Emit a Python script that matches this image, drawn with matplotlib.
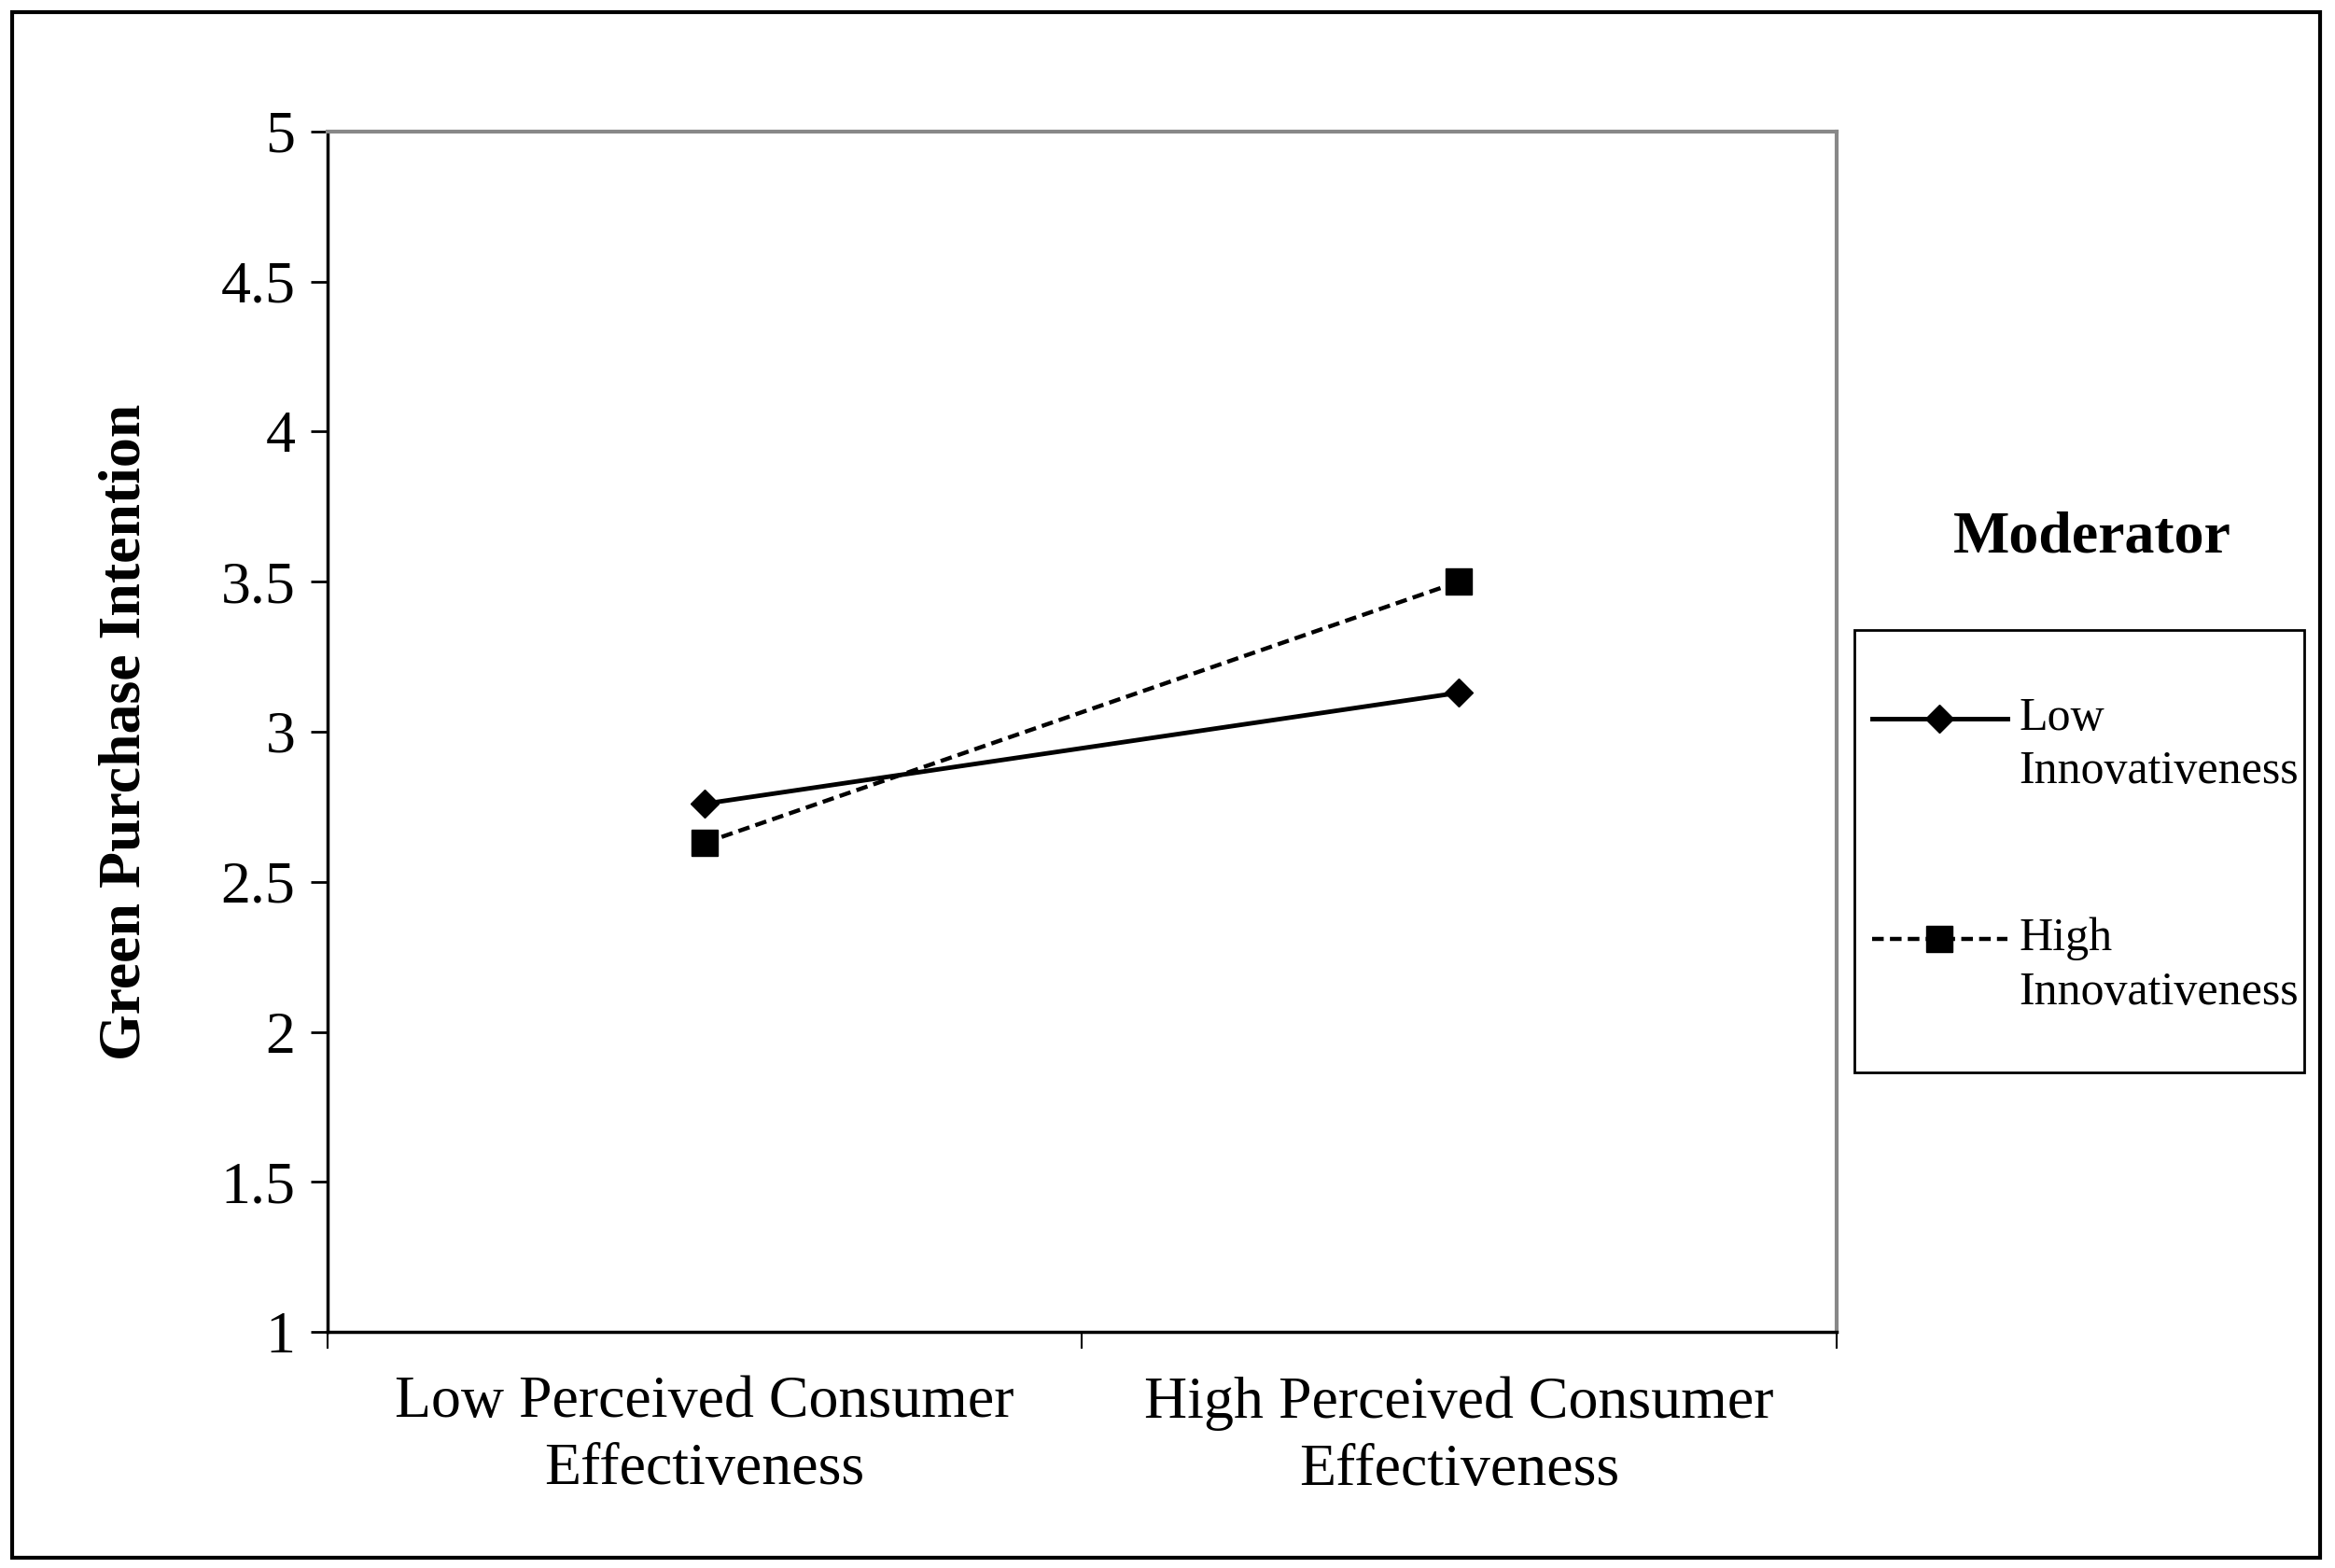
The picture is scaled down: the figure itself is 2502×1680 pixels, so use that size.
import matplotlib
import numpy as np
import matplotlib.pyplot as plt
from matplotlib.patches import Rectangle
from matplotlib.legend_handler import HandlerLine2D

matplotlib.use('Agg')

plt.rcParams['font.family'] = ['Liberation Serif', 'DejaVu Serif']

categories = ['Low Perceived Consumer\nEffectiveness', 'High Perceived Consumer\nEffectiveness']
low_innov = [2.76, 3.13]
high_innov = [2.63, 3.50]
series_names = ['Low\nInnovativeness', 'High\nInnovativeness']
y_ticks = [1, 1.5, 2, 2.5, 3, 3.5, 4, 4.5, 5]


class FirstLineHandler(HandlerLine2D):
    # значок легенды на уровне первой строки подписи, а не по центру
    def create_artists(self, legend, orig_handle, xdescent, ydescent,
                       width, height, fontsize, trans):
        return super().create_artists(legend, orig_handle, xdescent, ydescent - 42,
                                      width, height, fontsize, trans)


fig = plt.figure(figsize=(25.02, 16.8), dpi=100)
ax = fig.add_axes([0.1403, 0.1505, 0.6461, 0.7657])

x = np.arange(len(categories)) + 0.5
ax.plot(x, low_innov, '-', color='black', lw=3.5, marker='D', ms=15,
        label=series_names[0])
ax.plot(x, high_innov, color='black', lw=3.2, ls=(0, (2.8, 1.5)), marker='s',
        ms=20, label=series_names[1])

ax.set_xlim(0, 2)
ax.set_ylim(1, 5)
ax.set_yticks(y_ticks)
ax.set_yticklabels(['%g' % v for v in y_ticks])
ax.set_xticks([0, 1, 2])
ax.set_xticklabels([])
ax.set_xticks(x, minor=True)
ax.set_xticklabels(categories, minor=True, fontsize=46, linespacing=1.32)
ax.tick_params(axis='x', which='major', direction='out', length=13, width=1.5)
ax.tick_params(axis='x', which='minor', length=0, pad=34)
ax.tick_params(axis='y', direction='out', length=13, width=2, labelsize=46, pad=12)

ax.spines['left'].set_linewidth(2.5)
ax.spines['bottom'].set_linewidth(2.5)
ax.spines['top'].set_color('#888888')
ax.spines['right'].set_color('#888888')
ax.spines['top'].set_linewidth(3)
ax.spines['right'].set_linewidth(3)

ax.set_ylabel('Green Purchase Intention', fontsize=46, fontweight='bold')
ax.yaxis.set_label_coords(-0.116, 0.5)

fig.text(0.896, 0.657, 'Moderator', fontsize=46, fontweight='bold',
         ha='center', va='center')

# рамка легенды отдельно, сама легенда без рамки
fig.patches.append(Rectangle((0.794, 0.316), 0.193, 0.282, transform=fig.transFigure,
                             fill=False, edgecolor='black', lw=2))
leg = ax.legend(loc='upper left', bbox_to_anchor=(0.8017, 0.5555), bbox_transform=fig.transFigure,
                frameon=False, fontsize=36, handlelength=2.9, handletextpad=0.25,
                labelspacing=2.65, borderpad=0, borderaxespad=0,
                handler_map={matplotlib.lines.Line2D: FirstLineHandler()})
for t in leg.get_texts():
    t.set_linespacing(1.3)

fig.patches.append(Rectangle((0.0051, 0.0067), 0.9885, 0.9857, transform=fig.transFigure,
                             fill=False, edgecolor='black', lw=3))

fig.savefig('out.png', dpi=100)
